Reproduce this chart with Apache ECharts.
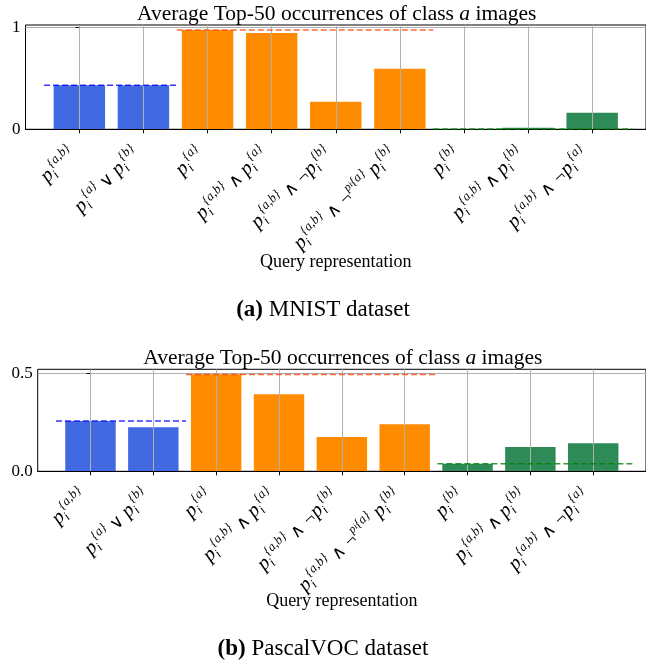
<!DOCTYPE html>
<html>
<head>
<meta charset="utf-8">
<script src="https://cdn.jsdelivr.net/npm/echarts@6/dist/echarts.min.js"></script>
<style>
html,body{margin:0;padding:0;background:#fff;}
#chart{width:646px;height:662px;}
</style>
</head>
<body>
<div id="chart"></div>
<script>
// query labels (rich text, plain text part = superscript)
const queryLabels=[
    "{p|p}{s|i}{a,b}",
    "{p|p}{s|i}{a}{o| ∨ }{p|p}{s|i}{b}",
    "{p|p}{s|i}{a}",
    "{p|p}{s|i}{a,b}{o| ∧ }{p|p}{s|i}{a}",
    "{p|p}{s|i}{a,b}{o| ∧ ¬}{p|p}{s|i}{b}",
    "{p|p}{s|i}{a,b}{o| ∧ ¬}{n|p}{t|i}{a}{p| p}{s|i}{b}",
    "{p|p}{s|i}{b}",
    "{p|p}{s|i}{a,b}{o| ∧ }{p|p}{s|i}{b}",
    "{p|p}{s|i}{a,b}{o| ∧ ¬}{p|p}{s|i}{a}"
];
const groupOf=[0,0,1,1,1,1,2,2,2];
const barColors=["#4169e1","#ff8c00","#2e8b57"];
const refColors=["#0000ff","#ff4500","#008000"];
const refStart=[-0.55,1.52,5.52];
const refEnd=[1.52,5.52,8.63];

const mnistValues=[0.432,0.432,0.975,0.945,0.271,0.595,0.002,0.016,0.163];
const mnistRefs=[0.432,0.975,0.002];
const mnistYTicks=[0,1];
const mnistYMax=1.024;

const vocValues=[0.258,0.226,0.497,0.394,0.175,0.241,0.039,0.124,0.144];
const vocRefs=[0.258,0.496,0.039];
const vocYTicks=[0,0.5];
const vocYMax=0.522;

const xMin=-0.84;
const xMax=8.84;

const serif="'Liberation Serif','DejaVu Serif',serif";

const panels=[
    {values:mnistValues,refs:mnistRefs,yTicks:mnistYTicks,yMax:mnistYMax,
     fmt:v=>String(v),
     rect:{left:25.5,top:25,width:622.5,height:104.3},nameGap:124,
     titleY:14,captionY:310,caption:"{b|(a)} MNIST dataset"},
    {values:vocValues,refs:vocRefs,yTicks:vocYTicks,yMax:vocYMax,
     fmt:v=>v.toFixed(1),
     rect:{left:37.7,top:369.3,width:610.3,height:102},nameGap:121,
     titleY:358,captionY:649,caption:"{b|(b)} PascalVOC dataset"}
];

const catIdx=queryLabels.map((_,i)=>i);

const labelRich={
    p:{fontSize:20,fontStyle:"italic",fontFamily:serif,color:"#000",verticalAlign:"bottom",padding:[0,0,2,0]},
    o:{fontSize:18,fontFamily:serif,color:"#000",verticalAlign:"bottom",padding:[0,0,2,0]},
    s:{fontSize:13,fontStyle:"italic",fontFamily:serif,color:"#000",verticalAlign:"bottom"},
    n:{fontSize:12,fontStyle:"italic",fontFamily:serif,color:"#000"},
    t:{fontSize:9,fontStyle:"italic",fontFamily:serif,color:"#000"}
};

const grids=[],xAxes=[],yAxes=[],series=[],graphics=[];

panels.forEach((pn,k)=>{
    grids.push({
        left:pn.rect.left,top:pn.rect.top,width:pn.rect.width,height:pn.rect.height,
        show:true,borderColor:"#000",borderWidth:1,backgroundColor:"transparent"
    });
    const barW=pn.rect.width/(xMax-xMin)*0.8;
    xAxes.push({
        type:"value",gridIndex:k,min:xMin,max:xMax,z:3,
        axisLine:{show:true,onZero:false,lineStyle:{color:"#000",width:1}},
        axisTick:{show:true,length:4,customValues:catIdx,lineStyle:{color:"#000"}},
        splitLine:{show:true,lineStyle:{color:"#b0b0b0",width:1}},
        axisLabel:{
            customValues:catIdx,rotate:45,margin:6,padding:[0,16,0,0],
            fontSize:13,fontStyle:"italic",fontFamily:serif,color:"#000",lineHeight:36,
            formatter:v=>queryLabels[Math.round(v)],
            rich:labelRich
        },
        name:"Query representation",nameLocation:"middle",nameGap:pn.nameGap,nameMoveOverlap:false,
        nameTextStyle:{fontFamily:serif,fontSize:18,color:"#000"}
    });
    yAxes.push({
        type:"value",gridIndex:k,min:0,max:pn.yMax,
        axisLine:{show:true,lineStyle:{color:"#000",width:1}},
        axisTick:{show:true,length:4,customValues:pn.yTicks,lineStyle:{color:"#000"}},
        axisLabel:{customValues:pn.yTicks,formatter:pn.fmt,fontFamily:serif,fontSize:17,color:"#000",margin:5},
        splitLine:{show:true,lineStyle:{color:"#b0b0b0",width:1}}
    });
    series.push({
        type:"bar",xAxisIndex:k,yAxisIndex:k,barWidth:barW,z:2,silent:true,
        data:pn.values.map((v,i)=>({value:[i,v],itemStyle:{color:barColors[groupOf[i]]}}))
    });
    pn.refs.forEach((r,g)=>{
        series.push({
            type:"line",xAxisIndex:k,yAxisIndex:k,symbol:"none",z:5,silent:true,
            lineStyle:{color:refColors[g],width:1.5,type:[6,3],opacity:0.8},
            data:[[refStart[g],r],[refEnd[g],r]]
        });
    });
    graphics.push({
        type:"text",x:pn.rect.left+pn.rect.width/2,y:pn.titleY,
        style:{text:"Average Top-50 occurrences of class {i|a} images",
            font:"21.5px "+serif,fill:"#000",align:"center",verticalAlign:"middle",
            rich:{i:{fontStyle:"italic",fontSize:21.5,fontFamily:serif}}}
    });
    graphics.push({
        type:"text",x:323,y:pn.captionY,
        style:{text:pn.caption,font:"23px "+serif,fill:"#000",align:"center",verticalAlign:"middle",
            rich:{b:{fontWeight:"bold",fontSize:23,fontFamily:serif}}}
    });
});

const chart=echarts.init(document.getElementById("chart"));
chart.setOption({
    animation:false,
    grid:grids,
    xAxis:xAxes,
    yAxis:yAxes,
    series:series,
    graphic:graphics
});
</script>
</body>
</html>
